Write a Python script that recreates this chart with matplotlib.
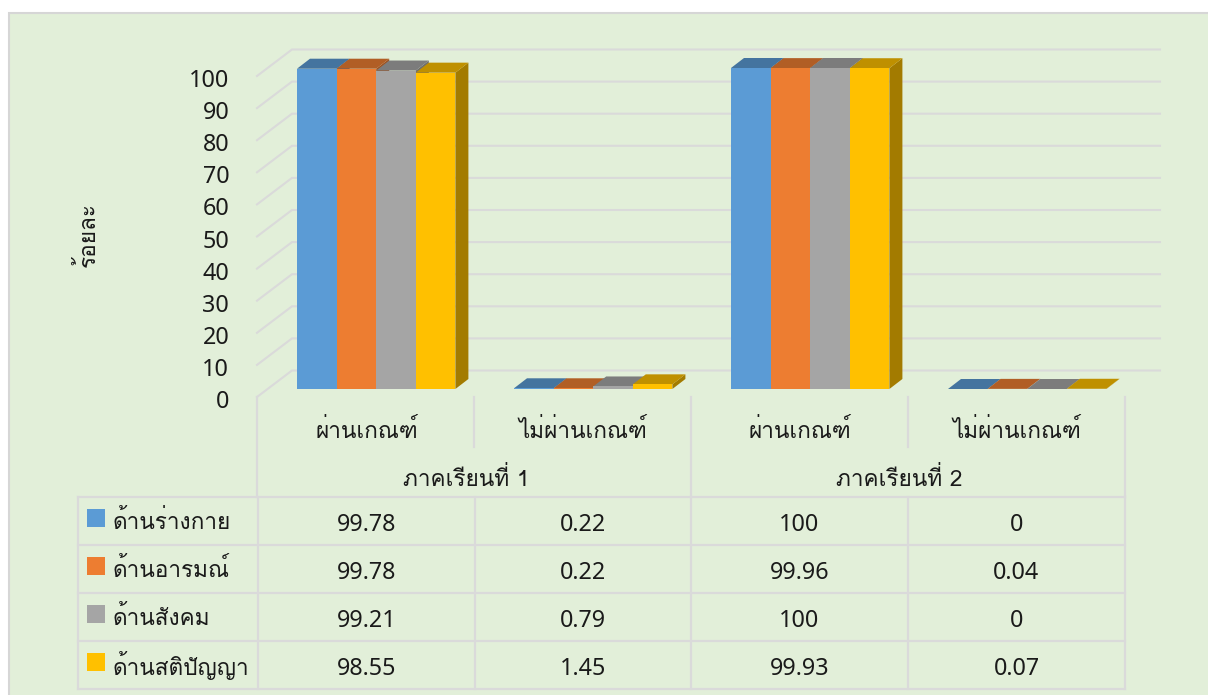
#!/usr/bin/env python3
"""Pseudo-3D clustered bars over a data table, percent passing by semester."""
import matplotlib
matplotlib.use("Agg")
import matplotlib.pyplot as plt
from matplotlib.lines import Line2D
from matplotlib.patches import Polygon, Rectangle
from matplotlib.transforms import ScaledTranslation

plt.rcParams["font.family"] = ["Loma", "DejaVu Sans"]

W, H = 1208, 695

SEMESTERS = ["ภาคเรียนที่ 1", "ภาคเรียนที่ 2"]
CATEGORIES = ["ผ่านเกณฑ์", "ไม่ผ่านเกณฑ์", "ผ่านเกณฑ์", "ไม่ผ่านเกณฑ์"]
SERIES_NAMES = ["ด้านร่างกาย", "ด้านอารมณ์", "ด้านสังคม", "ด้านสติปัญญา"]
PHYSICAL = [99.78, 0.22, 100, 0]
EMOTIONAL = [99.78, 0.22, 99.96, 0.04]
SOCIAL = [99.21, 0.79, 100, 0]
INTELLECT = [98.55, 1.45, 99.93, 0.07]
YTICKS = list(range(0, 101, 10))
YLABEL = "ร้อยละ"

FRONT = ["#5B9BD5", "#ED7D31", "#A5A5A5", "#FFC000"]
TOP = ["#44749F", "#B15E25", "#7C7C7C", "#BF9000"]
SIDE = ["#3A6690", "#9E5221", "#6E6E6E", "#A37B00"]
BG = "#E2EFD9"
LINE = "#DADADA"
INK = "#1A1A1A"
FS_THAI = 16.3
FS_NUM = 16.8
NUM_FONT = ["Noto Sans", "DejaVu Sans"]

# pixel geometry of the front plane
X0, X1 = 257, 1125
Y_ZERO, Y_HUND = 397, 76


def fx(px):
    return px / W


def fy(py):
    return 1 - py / H


def hline(fig, x0, x1, y):
    fig.add_artist(Line2D([fx(x0), fx(x1)], [fy(y), fy(y)], color=LINE, lw=1.6, zorder=1))


def vline(fig, x, y0, y1):
    fig.add_artist(Line2D([fx(x), fx(x)], [fy(y0), fy(y1)], color=LINE, lw=1.6, zorder=1))


def draw_walls(ax):
    ppx = (X1 - X0) / 4
    ppy = (Y_ZERO - Y_HUND) / 100
    dx = 35 / ppx
    dy = 26.5 / ppy
    right = (1160 - X0) / ppx
    for v in YTICKS:
        ax.plot([0, dx, right], [v, v + dy, v + dy], color=LINE, lw=1.5,
                clip_on=False, zorder=1, solid_joinstyle="miter")


def draw_bars(ax):
    ppx = (X1 - X0) / 4
    ppy = (Y_ZERO - Y_HUND) / 100
    width = 39.6 / ppx
    start = 40 / ppx
    floor = 8 / ppy
    dx = 13 / ppx
    dy = 10 / ppy
    series = [PHYSICAL, EMOTIONAL, SOCIAL, INTELLECT]
    for i, vals in enumerate(series):
        xs = [c + start + i * width for c in range(len(CATEGORIES))]
        z = 3 + i
        ax.bar(xs, vals, width=width, bottom=floor, align="edge", color=FRONT[i],
               zorder=z + 0.5, clip_on=False)
        for x, v in zip(xs, vals):
            top = floor + v
            ax.add_patch(Polygon([(x + width, floor), (x + width + dx, floor + dy),
                                  (x + width + dx, top + dy), (x + width, top)],
                                 closed=True, fc=SIDE[i], ec="none", zorder=z,
                                 clip_on=False))
            ax.add_patch(Polygon([(x, top), (x + dx, top + dy),
                                  (x + width + dx, top + dy), (x + width, top)],
                                 closed=True, fc=TOP[i], ec="none", zorder=z + 0.2,
                                 clip_on=False))


def draw_table(fig):
    cols = [258, 475, 691, 908, 1125]
    rows = [497, 545, 593, 641, 689]
    for y in rows:
        hline(fig, 78, 1125, y)
    for x in [78] + cols:
        vline(fig, x, rows[0], rows[-1])
    # axis-label part of the table above the data rows
    for x in [257, 691, 1125]:
        vline(fig, x, 397, 497)
    for x in [474, 908]:
        vline(fig, x, 397, 447)

    centres = [(cols[i] + cols[i + 1]) / 2 for i in range(4)]
    for c, lab in zip(centres, CATEGORIES):
        fig.text(fx(c), fy(431), lab, ha="center", va="center", fontsize=FS_THAI, color=INK)
    for c, lab in zip([centres[0] + 100, centres[2] + 100], SEMESTERS):
        fig.text(fx(c), fy(479), lab, ha="center", va="center", fontsize=FS_THAI, color=INK)

    series = [PHYSICAL, EMOTIONAL, SOCIAL, INTELLECT]
    for r, (name, vals) in enumerate(zip(SERIES_NAMES, series)):
        yc = (rows[r] + rows[r + 1]) / 2
        fig.add_artist(Rectangle((fx(87), fy(yc + 6)), 18 / W, 18 / H, fc=FRONT[r],
                                 ec="none", transform=fig.transFigure))
        fig.text(fx(113), fy(yc + 1), name, ha="left", va="center", fontsize=FS_THAI, color=INK)
        for c, v in zip(centres, vals):
            fig.text(fx(c), fy(yc + 4), f"{v:g}", ha="center", va="center",
                     fontsize=FS_NUM, color=INK, family=NUM_FONT)


def main():
    fig = plt.figure(figsize=(W / 100, H / 100), dpi=100, facecolor="white")
    # panel runs off the right and bottom edges of the image
    fig.add_artist(Rectangle((fx(9), fy(720)), 1240 / W, 707 / H, fc=BG, ec="#D6D6D6",
                             lw=1.5, transform=fig.transFigure, zorder=0))
    ax = fig.add_axes([fx(X0), fy(Y_ZERO), (X1 - X0) / W, (Y_ZERO - Y_HUND) / H])
    ax.patch.set_alpha(0)
    ax.set_xlim(0, 4)
    ax.set_ylim(0, 100)
    for s in ax.spines.values():
        s.set_visible(False)
    ax.set_xticks([])
    ax.set_yticks(YTICKS)
    ax.tick_params(axis="y", length=0, pad=20, labelsize=FS_NUM, labelcolor=INK)
    # tick numbers sit a little under their gridline ends
    nudge = ScaledTranslation(0, -2 / 100, fig.dpi_scale_trans)
    for lab in ax.get_yticklabels():
        lab.set_family(NUM_FONT)
        lab.set_transform(lab.get_transform() + nudge)
    ax.set_ylabel(YLABEL, fontsize=FS_THAI, color=INK)
    ax.yaxis.set_label_coords((100 - X0) / (X1 - X0), (Y_ZERO - 235) / (Y_ZERO - Y_HUND))

    draw_walls(ax)
    draw_bars(ax)
    draw_table(fig)
    fig.savefig("out.png", dpi=100)
    plt.close(fig)


if __name__ == "__main__":
    main()
